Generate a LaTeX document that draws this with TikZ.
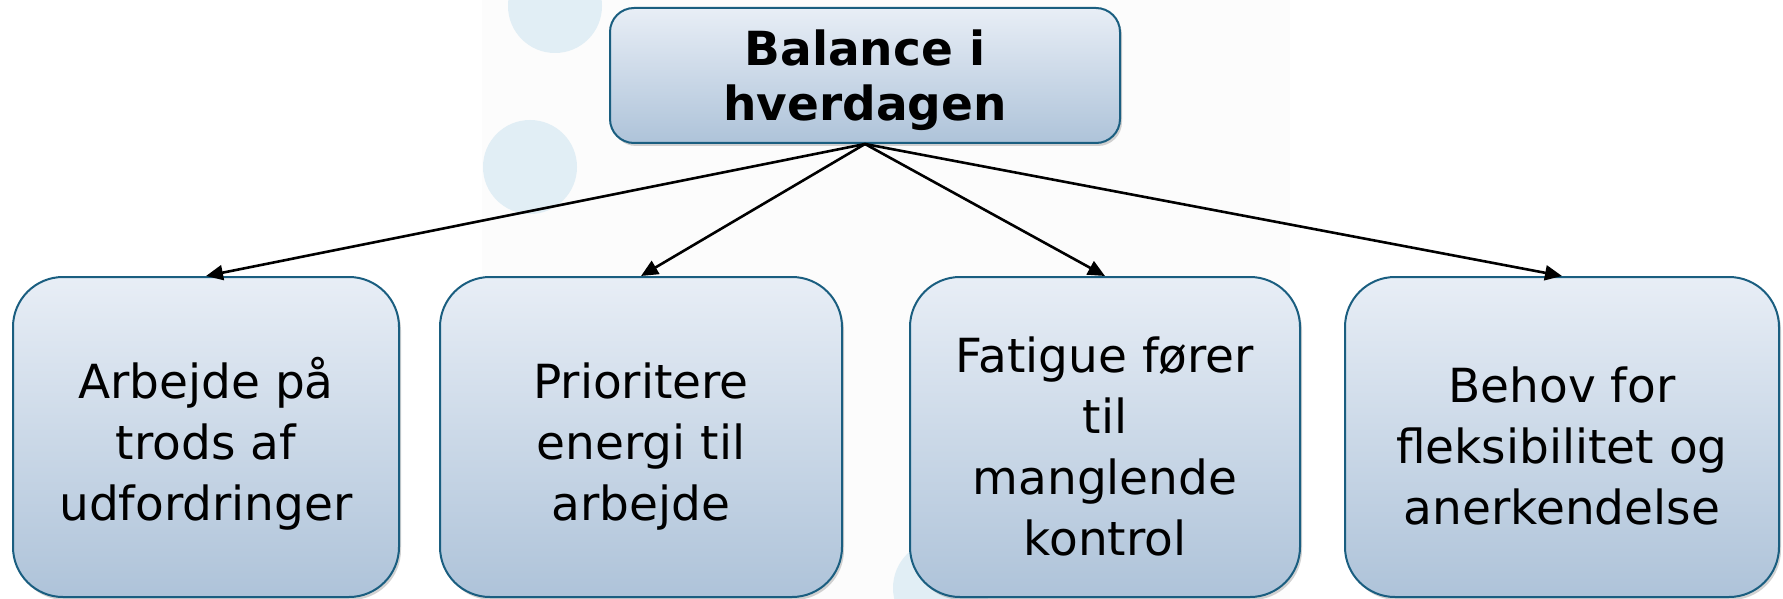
\documentclass[tikz,border=0pt]{standalone}
\usepackage{fontspec}
\setmainfont{DejaVu Sans}
\usetikzlibrary{shadows,arrows.meta}
\definecolor{boxtop}{HTML}{E8EEF6}
\definecolor{boxbot}{HTML}{AEC3D9}
\definecolor{boxline}{HTML}{1A5E80}
\definecolor{dotcol}{HTML}{E1EEF5}
\definecolor{pagebg}{HTML}{FCFCFC}
\newcommand\padsub{\rule{0pt}{54pt}}
\newcommand\padtop{\rule{0pt}{46pt}}
\tikzset{
  topbox/.style={rounded corners=24pt, draw=boxline, line width=2pt,
    top color=boxtop, bottom color=boxbot, minimum width=510pt, minimum height=135pt,
    inner sep=0pt, align=center, font=\fontsize{47}{55}\selectfont\bfseries,
    drop shadow={shadow xshift=2pt, shadow yshift=-3pt, opacity=0.35}},
  subbox/.style={rounded corners=50pt, draw=boxline, line width=2pt,
    top color=boxtop, bottom color=boxbot, minimum height=320pt,
    inner sep=0pt, align=center, font=\fontsize{47}{61}\selectfont,
    drop shadow={shadow xshift=2pt, shadow yshift=-3pt, opacity=0.35}},
  link/.style={line width=2.6pt, -{Triangle[length=17pt,width=15pt]}},
  dot/.style={fill=dotcol, draw=none}
}
\begin{document}
\begin{tikzpicture}[x=1pt,y=-1pt]
\useasboundingbox (0,0) rectangle (1783,599);
\fill[white] (0,0) rectangle (1783,599);
\fill[pagebg] (482,0) rectangle (1290,599);
\begin{scope}
\clip (0,0) rectangle (1783,599);
\fill[dot] (555,6) circle (47);
\fill[dot] (530,167) circle (47);
\fill[dot] (941,588) circle (48);
\end{scope}
\node[topbox] (top) at (865,75.5) {\padtop Balance i\\hverdagen};
\node[subbox, minimum width=386pt] (b1) at (206,437) {\padsub Arbejde på\\trods af\\udfordringer};
\node[subbox, minimum width=402pt] (b2) at (641,437) {\padsub Prioritere\\energi til\\arbejde};
\node[subbox, minimum width=390pt] (b3) at (1105,437) {\padsub Fatigue fører\\til\\manglende\\kontrol};
\node[subbox, minimum width=434pt] (b4) at (1562,437) {\padsub Behov for\\fleksibilitet og\\anerkendelse};
\draw[link] (top.south) -- (b1.north);
\draw[link] (top.south) -- (b2.north);
\draw[link] (top.south) -- (b3.north);
\draw[link] (top.south) -- (b4.north);
\end{tikzpicture}
\end{document}
